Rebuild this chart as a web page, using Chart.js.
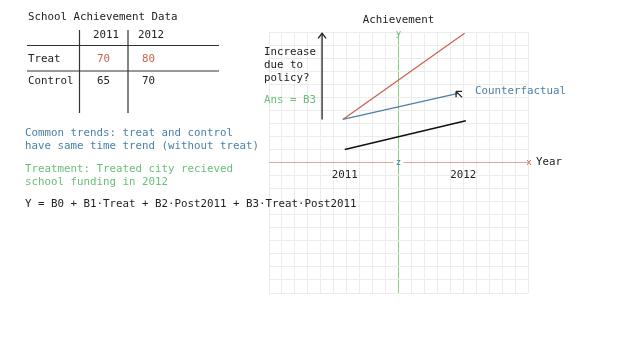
<!DOCTYPE html>
<html>
<head>
  <meta charset="utf-8">
  <title>School Achievement: Difference in Differences</title>
  <script src="https://cdn.jsdelivr.net/npm/chart.js"></script>
  <style>
    body { margin: 0; background: #fff; }
    #board { display: block; }
  </style>
</head>
<body>
  <canvas id="board" width="640" height="360"></canvas>
  <script>
    // table data
    const tableYears = ['2011', '2012'];
    const tableGroups = ['Treat', 'Control'];
    const treatScores = [70, 80];
    const controlScores = [65, 70];

    // sketch lines, in grid units (grid runs -10..10 both ways)
    const treatX = [-4.3, 5.1];
    const treatY = [3.3, 9.9];
    const counterX = [-4.3, 4.6];
    const counterY = [3.3, 5.3];
    const controlX = [-4.15, 5.2];
    const controlY = [1.0, 3.2];
    const policyX = [-5.9, -5.9];
    const policyY = [3.3, 9.9];

    // year labels under the x axis
    const yearLabels = ['2011', '2012'];
    const yearPos = [-4.15, 5.0];

    const FONT = '10.8px "DejaVu Sans Mono", monospace';
    const RED = '#c8654f';
    const BLUE = '#4b80a8';
    const GREEN = '#6cbf78';

    const pts = (xs, ys) => xs.map((x, i) => ({ x: x, y: ys[i] }));

    const line = (label, data, color, width) => ({
      label: label,
      data: data,
      showLine: true,
      borderColor: color,
      borderWidth: width,
      pointRadius: 0,
      fill: false
    });

    function txt(ctx, s, x, y, color, align, font) {
      ctx.font = font || FONT;
      ctx.fillStyle = color || '#222';
      ctx.textAlign = align || 'left';
      ctx.textBaseline = 'middle';
      ctx.fillText(s, x, y);
    }

    // everything that is not a plotted line: table, notes, axis labels, arrow heads
    const boardPlugin = {
      id: 'board',
      beforeDraw(chart) {
        const c = chart.ctx;
        c.save();
        c.fillStyle = '#fff';
        c.fillRect(0, 0, chart.width, chart.height);
        c.restore();
      },
      afterDatasetsDraw(chart) {
        const c = chart.ctx;
        const sx = chart.scales.x, sy = chart.scales.y;
        c.save();

        // table
        txt(c, 'School Achievement Data', 28, 17);
        const colX = [93, 138];
        tableYears.forEach((y, i) => txt(c, y, colX[i], 35));
        const rowY = [59, 81];
        tableGroups.forEach((g, r) => {
          txt(c, g, 28, rowY[r]);
          const vals = r === 0 ? treatScores : controlScores;
          vals.forEach((v, i) => txt(c, String(v), colX[i] + 4, rowY[r], r === 0 ? RED : '#222'));
        });
        c.strokeStyle = '#333';
        c.lineWidth = 1.2;
        c.beginPath();
        [79.5, 128].forEach(x => { c.moveTo(x, 30); c.lineTo(x, 113); });
        [45.5, 71].forEach(y => { c.moveTo(27, y); c.lineTo(219, y); });
        c.stroke();

        // notes
        txt(c, 'Common trends: treat and control', 25, 133, BLUE);
        txt(c, 'have same time trend (without treat)', 25, 146, BLUE);
        txt(c, 'Treatment: Treated city recieved', 25, 169, GREEN);
        txt(c, 'school funding in 2012', 25, 182, GREEN);
        txt(c, 'Y = B0 + B1\u00b7Treat + B2\u00b7Post2011 + B3\u00b7Treat\u00b7Post2011', 25, 204);

        // chart labels
        txt(c, 'Achievement', sx.getPixelForValue(0), 20, '#222', 'center');
        txt(c, 'y', sx.getPixelForValue(0), 34, GREEN, 'center', '9px "DejaVu Sans Mono", monospace');
        const zx = sx.getPixelForValue(0), zy = sy.getPixelForValue(0);
        c.fillStyle = '#fff';
        c.fillRect(zx - 5, zy - 3, 10, 6);
        c.strokeStyle = '#8fcf7f';
        c.lineWidth = 1;
        c.beginPath(); c.moveTo(zx, zy - 4); c.lineTo(zx, zy + 4); c.stroke();
        txt(c, 'z', zx, zy, BLUE, 'center', '9px "DejaVu Sans Mono", monospace');
        txt(c, 'x', chart.chartArea.right + 1, zy, RED, 'center', '9px "DejaVu Sans Mono", monospace');
        txt(c, 'Year', chart.chartArea.right + 8, zy);
        yearLabels.forEach((y, i) => txt(c, y, sx.getPixelForValue(yearPos[i]), 175, '#222', 'center'));

        txt(c, 'Increase', 264, 52);
        txt(c, 'due to', 264, 65);
        txt(c, 'policy?', 264, 78);
        txt(c, 'Ans = B3', 264, 100, GREEN);

        // policy arrow head
        const ax = sx.getPixelForValue(policyX[1]), ay = sy.getPixelForValue(policyY[1]);
        c.strokeStyle = '#222';
        c.lineWidth = 1.3;
        c.beginPath();
        c.moveTo(ax - 4, ay + 5); c.lineTo(ax, ay); c.lineTo(ax + 4, ay + 5);
        c.stroke();

        // counterfactual label and pointer
        const cx = sx.getPixelForValue(counterX[1]), cy = sy.getPixelForValue(counterY[1]);
        txt(c, 'Counterfactual', 475, 91, BLUE);
        c.beginPath();
        c.moveTo(cx - 2, cy - 2); c.lineTo(cx + 4, cy + 4);
        c.moveTo(cx - 2, cy - 2); c.lineTo(cx + 4, cy - 2);
        c.moveTo(cx - 2, cy - 2); c.lineTo(cx - 2, cy + 4);
        c.stroke();

        c.restore();
      }
    };

    const gridColor = (axisColor) => (ctx) => ctx.tick && ctx.tick.value === 0 ? axisColor : '#ececec';

    new Chart(document.getElementById('board'), {
      type: 'scatter',
      data: {
        datasets: [
          line('Treat', pts(treatX, treatY), RED, 1.3),
          line('Counterfactual', pts(counterX, counterY), BLUE, 1.3),
          line('Control', pts(controlX, controlY), '#111', 1.5),
          line('Policy', pts(policyX, policyY), '#222', 1.3)
        ]
      },
      options: {
        responsive: false,
        animation: false,
        layout: { padding: { left: 269, top: 32, right: 112, bottom: 67 } },
        plugins: { legend: { display: false }, tooltip: { enabled: false } },
        scales: {
          x: {
            type: 'linear', min: -10, max: 10,
            ticks: { display: false, stepSize: 1 },
            grid: { color: gridColor('#8fcf7f'), lineWidth: 1, drawTicks: false },
            border: { display: false }
          },
          y: {
            type: 'linear', min: -10, max: 10,
            ticks: { display: false, stepSize: 1 },
            grid: { color: gridColor('#e4a89a'), lineWidth: 1, drawTicks: false },
            border: { display: false }
          }
        }
      },
      plugins: [boardPlugin]
    });
  </script>
</body>
</html>
